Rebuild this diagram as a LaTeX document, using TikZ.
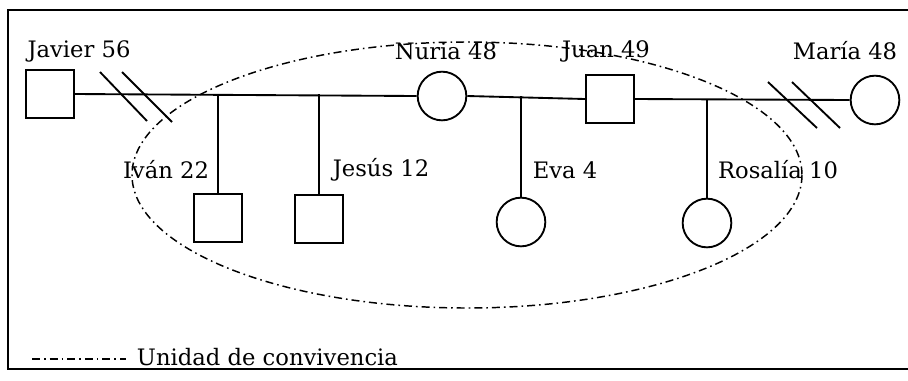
\documentclass[tikz,border=0pt]{standalone}
\usepackage{fontspec}
\setmainfont{DejaVu Serif}
\usetikzlibrary{calc}
\begin{document}
\begin{tikzpicture}[x=0.75pt,y=-0.75pt,
  line width=1.4pt,
  male/.style={draw, rectangle, minimum size=36pt, inner sep=0pt},
  female/.style={draw, circle, minimum size=36.5pt, inner sep=0pt},
  lbl/.style={font=\fontsize{17}{20}\selectfont, inner sep=0pt, anchor=center},
  convivencia/.style={line width=1.1pt, dash pattern=on 6pt off 3pt on 1.2pt off 3pt},
  frameline/.style={line width=1.1pt}]
\useasboundingbox (0,0) rectangle (908,380);

% frame (its right side lies outside the page)
\draw[frameline] (908,10) -- (8,10) -- (8,369) -- (908,369);

% household outline
\draw[convivencia] (467,175) ellipse [x radius=335, y radius=133];

% people
\node[male]   (jav) at (50,94)  {};
\node[female] (nur) at (442,96) {};
\node[male]   (jua) at (610,99) {};
\node[female] (mar) at (875,100) {};
\node[male]   (iva) at (218,218) {};
\node[male]   (jes) at (319,219) {};
\node[female] (eva) at (521,222) {};
\node[female] (ros) at (707,223) {};

% names and ages
\node[lbl] (tjav) at (79,51)  {Javier 56};
\node[lbl] (tnur) at (446,51) {Nuria 48};
\node[lbl] (tjua) at (606,51) {Juan 49};
\node[lbl] (tmar) at (845,51) {María 48};
\node[lbl] (tiva) at (166,170) {Iván 22};
\node[lbl] (tjes) at (381,170) {Jesús 12};
\node[lbl] (teva) at (565,170) {Eva 4};
\node[lbl] (tros) at (778,170) {Rosalía 10};

% couples
\draw (jav.east) -- (nur.west);
\draw (nur.east) -- (jua.west);
\draw (jua.east) -- (mar.west);

% children
\draw (iva.north |- jav.east) -- (iva.north);
\draw (jes.north |- jav.east) -- (jes.north);
\draw (eva.north |- nur.east) -- (eva.north);
\draw (ros.north |- jua.east) -- (ros.north);

% divorce marks
\draw (100,72) -- (147,121);
\draw (122,72) -- (172,122);
\draw (768,82) -- (817,128);
\draw (792,82) -- (840,128);

% legend
\coordinate (legA) at (32,359);
\coordinate (legB) at (126,359);
\draw[convivencia] (legA) -- (legB);
\node[lbl, anchor=west] (tleg) at (136,357) {Unidad de convivencia};
\end{tikzpicture}
\end{document}
